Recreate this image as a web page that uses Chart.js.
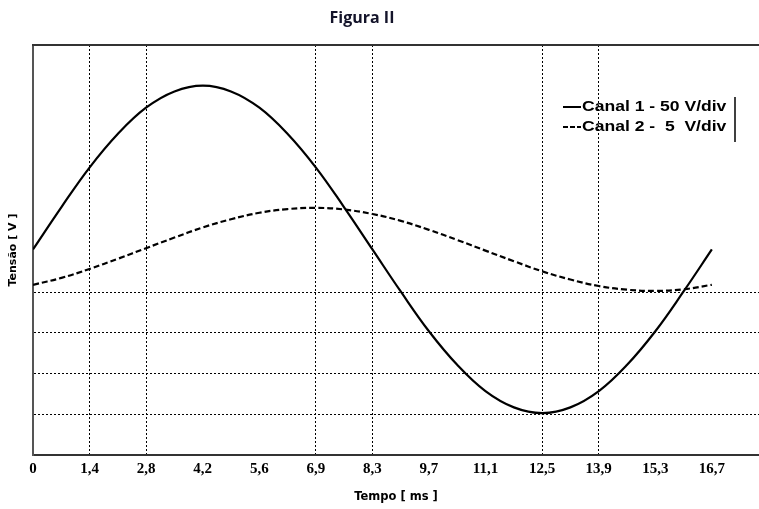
<!DOCTYPE html>
<html>
<head>
<meta charset="utf-8">
<script src="https://cdn.jsdelivr.net/npm/chart.js@4.4.1/dist/chart.umd.min.js"></script>
<style>
  html, body { margin: 0; padding: 0; background: #fff; }
  #wrap { width: 759px; height: 509px; }
</style>
</head>
<body>
<div id="wrap"><canvas id="figura"></canvas></div>
<script>
// tempo [ms] dos pontos
const tempo = [0, 0.70, 1.39, 2.09, 2.78, 3.48, 4.18, 4.87, 5.57, 6.26, 6.96, 7.65, 8.35,
               9.05, 9.74, 10.44, 11.13, 11.83, 12.53, 13.22, 13.92, 14.61, 15.31, 16.00, 16.70];
// canal 1 (linha cheia), em divisoes
const canal1 = [5.05, 6.09, 7.06, 7.89, 8.53, 8.93, 9.07, 8.93, 8.53, 7.89, 7.06, 6.09, 5.05,
                4.01, 3.04, 2.21, 1.57, 1.17, 1.03, 1.17, 1.57, 2.21, 3.04, 4.01, 5.05];
// canal 2 (tracejado), em divisoes
const canal2 = [4.18, 4.35, 4.57, 4.82, 5.08, 5.34, 5.59, 5.79, 5.95, 6.04, 6.07, 6.03, 5.92,
                5.75, 5.53, 5.28, 5.02, 4.76, 4.51, 4.31, 4.15, 4.06, 4.03, 4.07, 4.18];
// rotulos do eixo x
const rotulosX = ['0', '1,4', '2,8', '4,2', '5,6', '6,9', '8,3', '9,7', '11,1', '12,5', '13,9', '15,3', '16,7'];
const gradeX = [1, 2, 5, 6, 9, 10];   // indices dos rotulos com linha de grade
const gradeY = [1, 2, 3, 4];

const pontos = serie => tempo.map((t, i) => ({ x: t, y: serie[i] }));

// titulo, borda de cima e legenda
const extras = {
  id: 'extras',
  afterDraw(chart) {
    const c = chart.ctx;
    const area = chart.chartArea;
    c.save();
    c.fillStyle = '#14142a';
    c.font = 'bold 16px "Open Sans"';
    c.textAlign = 'center';
    c.textBaseline = 'middle';
    c.fillText('Figura II', 362, 18);

    c.strokeStyle = '#333';
    c.lineWidth = 2;
    c.beginPath();
    c.moveTo(area.left - 1, area.top);
    c.lineTo(area.right, area.top);
    c.stroke();

    // legenda
    c.lineWidth = 2;
    c.strokeStyle = '#000';
    c.beginPath();
    c.moveTo(563, 107); c.lineTo(581, 107);
    c.stroke();
    c.setLineDash([5, 2]);
    c.beginPath();
    c.moveTo(563, 127); c.lineTo(581, 127);
    c.stroke();
    c.setLineDash([]);
    c.lineWidth = 1.5;
    c.beginPath();
    c.moveTo(735, 97); c.lineTo(735, 142);
    c.stroke();

    // texto um pouco esticado, como no original
    c.save();
    c.translate(582, 0);
    c.scale(1.17, 1);
    c.fillStyle = '#000';
    c.font = 'bold 15px "Liberation Sans"';
    c.textAlign = 'left';
    c.fillText('Canal 1 - 50 V/div', 0, 107);
    c.fillText('Canal 2 -  5  V/div', 0, 127);
    c.restore();
    c.restore();
  }
};

new Chart(document.getElementById('figura'), {
  type: 'line',
  data: {
    datasets: [{
      label: 'Canal 1 - 50 V/div',
      data: pontos(canal1),
      borderColor: '#000',
      borderWidth: 2.2,
      pointRadius: 0,
      tension: 0.4,
      fill: false
    }, {
      label: 'Canal 2 -  5  V/div',
      data: pontos(canal2),
      borderColor: '#000',
      borderWidth: 2.2,
      borderDash: [6, 3],
      pointRadius: 0,
      tension: 0.4,
      fill: false
    }]
  },
  options: {
    responsive: true,
    maintainAspectRatio: false,
    animation: false,
    layout: { padding: { top: 45, right: 0, left: 0, bottom: 0 } },
    plugins: {
      legend: { display: false },
      title: { display: false },
      tooltip: { enabled: false }
    },
    scales: {
      x: {
        type: 'linear',
        min: 0,
        max: 17.86,
        afterBuildTicks: scale => {
          scale.ticks = rotulosX.map((r, i) => ({ value: i * 16.7 / 12 }));
        },
        afterFit: scale => { scale.height = 54; },
        ticks: {
          autoSkip: false,
          maxRotation: 0,
          padding: 5,
          color: '#000',
          font: { family: '"Liberation Serif"', size: 15, weight: 'bold' },
          callback: (v, i) => rotulosX[i]
        },
        grid: {
          drawTicks: false,
          color: ctx => gradeX.includes(ctx.index) ? '#000' : 'rgba(0,0,0,0)',
          lineWidth: 1
        },
        border: { display: true, color: '#333', width: 2, dash: [2, 2] },
        title: {
          display: true,
          text: 'Tempo [ ms ]',
          color: '#000',
          font: { family: '"DejaVu Sans"', size: 11.5, weight: 'bold' },
          padding: { top: 0, bottom: 5 }
        }
      },
      y: {
        min: 0,
        max: 10.07,
        afterBuildTicks: scale => {
          scale.ticks = gradeY.map(v => ({ value: v }));
        },
        afterFit: scale => { scale.width = 33; },
        ticks: { display: false },
        grid: {
          drawTicks: false,
          color: '#000',
          lineWidth: 1
        },
        border: { display: true, color: '#555', width: 2, dash: [2, 2] },
        title: {
          display: true,
          text: 'Tensão [ V ]',
          color: '#000',
          font: { family: '"DejaVu Sans"', size: 11, weight: 'bold' },
          padding: { top: 7, bottom: 0 }
        }
      }
    }
  },
  plugins: [extras]
});
</script>
</body>
</html>
